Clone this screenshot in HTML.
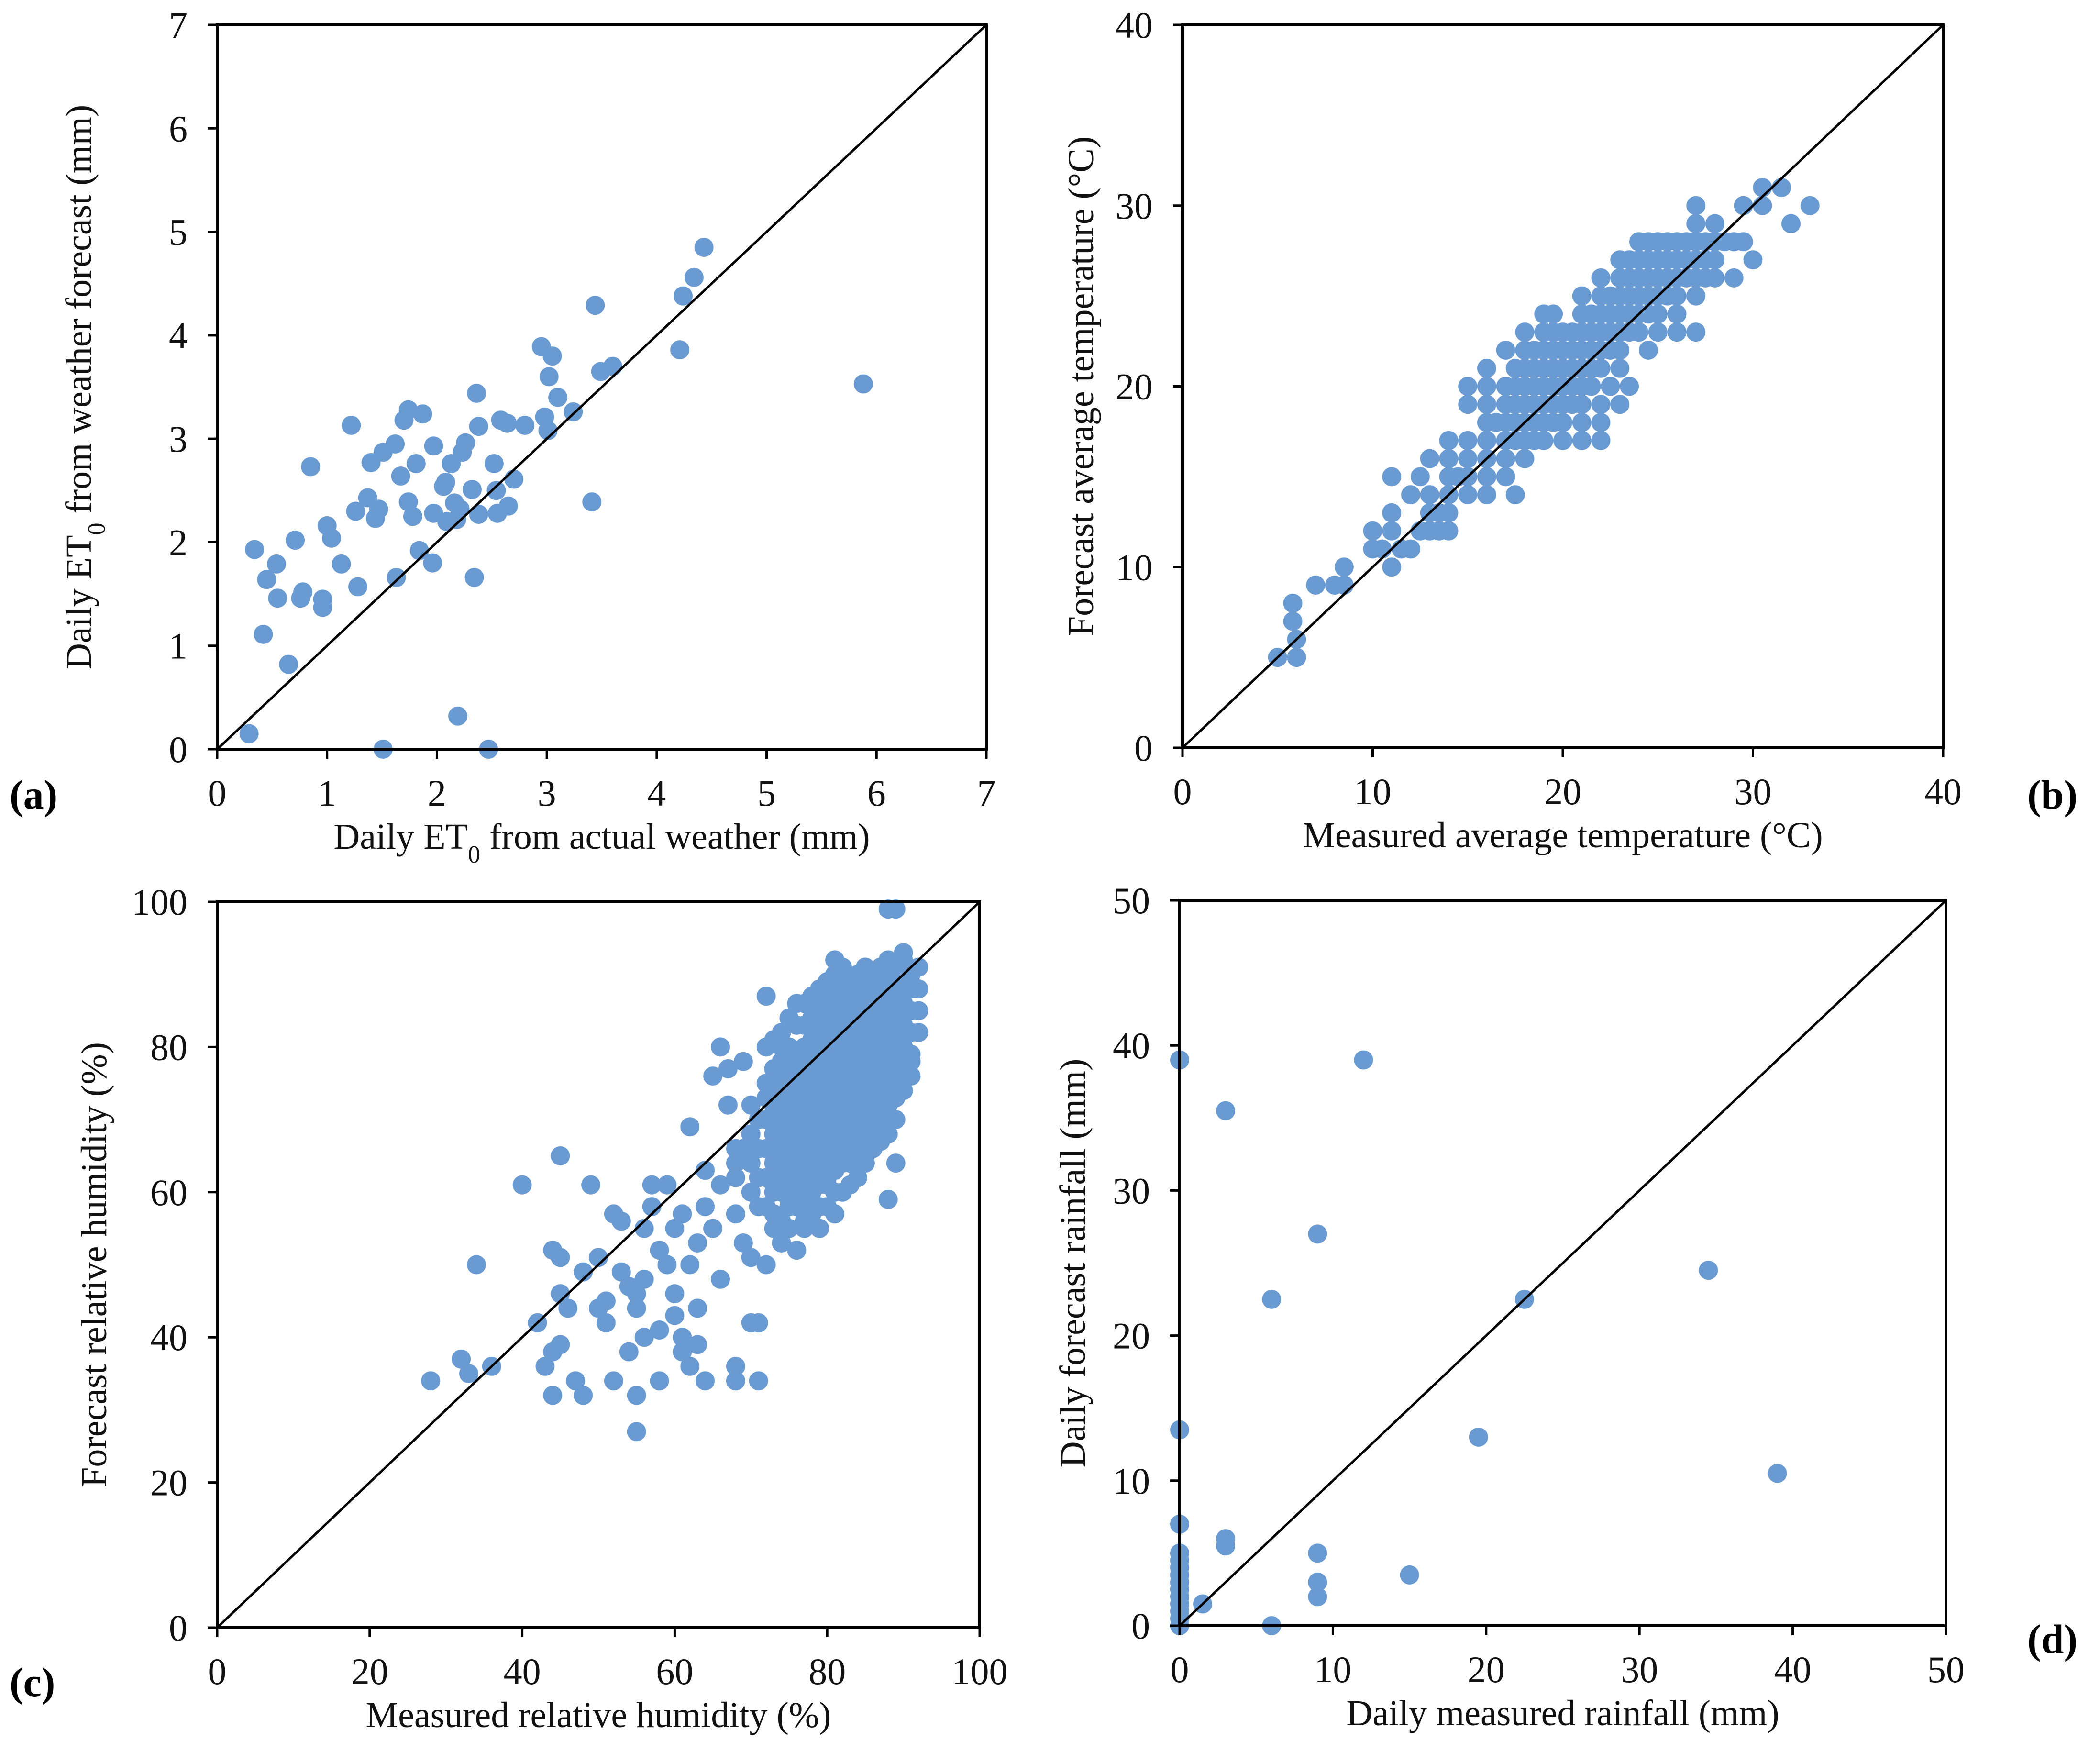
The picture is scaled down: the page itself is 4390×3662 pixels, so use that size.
<!DOCTYPE html>
<html><head><meta charset="utf-8">
<style>
html,body{margin:0;padding:0;background:#fff;}
svg{display:block;font-family:"Liberation Serif",serif;}
</style></head>
<body>
<svg id="fig" width="4390" height="3662" viewBox="0 0 4390 3662" xmlns="http://www.w3.org/2000/svg">
<rect width="4390" height="3662" fill="#fff"/>
</svg>
<script>
// Panel (a): ET0
const aX=[0.34,0.45,0.54,0.55,0.42,0.65,0.29,0.71,0.76,0.78,0.85,0.96,0.96,1.0,1.04,1.13,1.22,1.26,1.28,1.37,1.40,1.44,1.47,1.51,1.62,1.51,1.63,1.67,1.70,1.74,1.74,1.78,1.81,1.84,1.87,1.96,1.97,1.97,2.06,2.08,2.09,2.13,2.16,2.19,2.23,2.26,2.32,2.34,2.36,2.38,2.38,2.47,2.52,2.54,2.55,2.58,2.64,2.65,2.70,2.80,2.95,2.98,3.01,3.02,3.05,3.10,3.24,3.41,3.44,3.49,3.60,4.21,4.24,4.34,4.43,5.88,2.21,2.18];
const aY=[1.93,1.64,1.79,1.46,1.11,0.82,0.15,2.02,1.46,1.52,2.73,1.45,1.37,2.16,2.04,1.79,3.13,2.30,1.57,2.43,2.77,2.23,2.32,2.87,2.95,0,1.66,2.64,3.18,3.28,2.39,2.25,2.76,1.92,3.24,1.80,2.93,2.28,2.54,2.58,2.20,2.76,2.38,0.32,2.87,2.96,2.51,1.66,3.44,3.12,2.27,0,2.76,2.50,2.28,3.18,3.15,2.35,2.61,3.13,3.89,3.21,3.08,3.60,3.80,3.40,3.26,2.39,4.29,3.65,3.70,3.86,4.38,4.56,4.85,3.53,2.32,2.22];
const aTicks=[0,1,2,3,4,5,6,7];

// Panel (b): temperature, forecast levels and measured values at each level
const bLevels=[5,6,7,8,9,10,11,12,13,14,15,16,17,18,19,20,21,22,23,24,25,26,27,28,29,30,31];
const bMeasured=[
[5,6],[6],[5.8],[5.8],[7,8,8.5],[8.5,11],[10,10.5,11.5,12],[10,11,12.5,13,13.5,14],[11,13,13.5,14],[12,13,14,15,16,17.5],
[11,12.5,14,14.5,15,16,17],[13,14,15,16,17,18],[14,15,16,17,17.5,18,18.5,19,20,21,22],[16,16.5,17,17.5,18,18.5,19,19.5,20,21,22],
[15,16,17,17.5,18,18.5,19,19.5,20,20.5,21,22,23],[15,16,17,17.5,18,18.5,19,19.5,20,20.5,21,21.5,22.5,23.5],
[16,17.5,18,18.5,19,19.5,20,20.5,21,21.5,22,23],[17,18,18.5,19,19.5,20,20.5,21,21.5,22,22.5,23,24.5],
[18,19,19.5,20,20.5,21,21.5,22,22.5,23,23.5,24,25,26,27],[19,19.5,21,21.5,22,22.5,23,23.5,24,24.5,25,26],
[21,22,22.5,23,23.5,24,24.5,25,25.5,26,27],[22,23,23.5,24,24.5,25,25.5,26,26.5,27,27.5,28,29],
[23,23.5,24,24.5,25,25.5,26,26.5,27,27.5,28,30],[24,24.5,25,25.5,26,26.5,27,27.5,28,28.5,29,29.5],
[27,28,32],[27,29.5,30.5,33],[30.5,31.5]];
const bTicks=[0,10,20,30,40];

// Panel (c): humidity
const cPoints=[[28,34],[32,37],[33,35],[34,50],[36,36],[40,61],[42,42],[43,36],[44,52],[44,38],[45,51],[45,65],[44,32],[45,39],[46,44],[45,46],[47,34],[48,49],[48,32],[49,61],[50,51],[50,44],[51,45],[51,42],[52,57],[52,34],[53,56],[53,49],[54,47],[54,38],[55,27],[55,32],[55,44],[55,46],[56,40],[56,55],[56,48],[57,58],[57,61],[58,52],[58,34],[58,41],[59,61],[59,50],[60,43],[60,46],[60,55],[61,38],[61,40],[61,57],[62,69],[62,50],[62,36],[63,53],[63,44],[63,39],[64,34],[64,58],[64,63],[65,76],[65,55],[66,80],[66,48],[66,61],[67,77],[67,72],[68,36],[68,34],[68,57],[68,64],[69,78],[69,53],[70,51],[70,42],[71,34],[71,42],[71,62],[72,87],[72,75],[72,50],[73,60],[73,55],[74,53],[74,80],[75,67],[75,59],[76,52],[76,86],[76,72],[77,55],[78,77],[78,64],[79,55],[80,61],[80,68],[81,92],[81,84],[82,70],[83,64],[84,75],[85,65],[86,71],[87,90],[88,59],[88,99],[89,99],[89,64],[90,93],[91,78],[92,88],
[68,62],[68,66],[70,60],[70,64],[70,68],[70,72],[69,66],[71,58],[71,66],[71,70],
[72,58],[72,62],[72,66],[72,70],[72,73],[72,80],
[73,57],[73,61],[73,64],[73,68],[73,71],[73,74],[73,77],[73,81],
[74,56],[74,60],[74,63],[74,66],[74,69],[74,72],[74,75],[74,78],[74,82],
[75,55],[75,58],[75,62],[75,65],[75,68],[75,71],[75,74],[75,77],[75,80],[75,84],
[76,58],[76,61],[76,64],[76,67],[76,70],[76,73],[76,76],[76,79],[76,83],
[77,56],[77,59],[77,62],[77,65],[77,68],[77,71],[77,74],[77,77],[77,80],[77,83],[77,86],
[78,57],[78,60],[78,63],[78,66],[78,69],[78,72],[78,75],[78,78],[78,81],[78,84],[78,87],
[79,58],[79,61],[79,64],[79,67],[79,70],[79,73],[79,76],[79,79],[79,82],[79,85],[79,88],
[80,58],[80,62],[80,65],[80,71],[80,74],[80,77],[80,80],[80,83],[80,86],[80,89],
[81,57],[81,60],[81,63],[81,66],[81,69],[81,72],[81,75],[81,78],[81,81],[81,87],[81,90],
[82,60],[82,64],[82,67],[82,73],[82,76],[82,79],[82,82],[82,85],[82,88],[82,91],
[83,61],[83,65],[83,68],[83,71],[83,74],[83,77],[83,80],[83,83],[83,86],[83,89],
[84,62],[84,66],[84,69],[84,72],[84,78],[84,81],[84,84],[84,87],[84,90],
[85,64],[85,67],[85,70],[85,73],[85,76],[85,79],[85,82],[85,85],[85,88],[85,91],
[86,66],[86,69],[86,75],[86,78],[86,81],[86,84],[86,87],[86,90],
[87,67],[87,70],[87,73],[87,76],[87,79],[87,82],[87,85],[87,88],[87,91],
[88,68],[88,72],[88,75],[88,78],[88,81],[88,84],[88,87],[88,90],[88,92],
[89,70],[89,73],[89,76],[89,79],[89,82],[89,85],[89,88],[89,91],
[90,74],[90,77],[90,80],[90,83],[90,86],[90,89],[90,92],
[91,76],[91,79],[91,82],[91,85],[91,88],[91,90],[92,82],[92,85],[92,91]];
const cTicks=[0,20,40,60,80,100];

// Panel (d): rainfall
const dX=[0,3,12,9,6,22.5,34.5,19.5,39,0,0,3,3,9,15,9,9,1.5,6,0,0,0,0,0,0,0,0,0,0,0];
const dY=[39,35.5,39,27,22.5,22.5,24.5,13,10.5,13.5,7,6,5.5,5,3.5,3,2,1.5,0,5,4.5,4,3.5,3,2.5,2,1.5,1,0.5,0];
const dTicks=[0,10,20,30,40,50];

const NS='http://www.w3.org/2000/svg';
const svg=document.getElementById('fig');
const DOT='#6a9ad2';
function mk(tag,attrs,parent){const e=document.createElementNS(NS,tag);for(const k in attrs)e.setAttribute(k,attrs[k]);(parent||svg).appendChild(e);return e;}

function panel(id,box,max,ticks,pts,xTitle,yTitle,yTitleX,label,labelPos){
  const g=mk('g',{});
  
  
  const sx=v=>box.L+(v/max)*(box.R-box.L);
  const sy=v=>box.B-(v/max)*(box.B-box.T);
  const dg=mk('g',{},g);
  
  
  pts.forEach(p=>{
    const c=mk('circle',{cx:sx(p[0]),cy:sy(p[1]),r:20,fill:DOT},dg);
    
    
  });
  const ln=mk('line',{x1:sx(0),y1:sy(0),x2:sx(max),y2:sy(max),stroke:'#000','stroke-width':5},g);
  
  
  const fr=mk('rect',{x:box.L,y:box.T,width:box.R-box.L,height:box.B-box.T,fill:'none',stroke:'#000','stroke-width':6},g);
  
  
  ticks.forEach(t=>{
    mk('line',{x1:sx(t),y1:box.B,x2:sx(t),y2:box.B+20,stroke:'#000','stroke-width':5},g);
    mk('line',{x1:box.L-20,y1:sy(t),x2:box.L,y2:sy(t),stroke:'#000','stroke-width':5},g);
    const xt=mk('text',{x:sx(t),y:box.B+118,'font-size':78,'text-anchor':'middle',fill:'#111'},g);
    xt.textContent=t;
    
    
    const yt=mk('text',{x:box.L-62,y:sy(t)+27,'font-size':78,'text-anchor':'end',fill:'#111'},g);
    yt.textContent=t;
    
    
  });
  const xtt=mk('text',{x:(box.L+box.R)/2,y:box.B+208,'font-size':76,'text-anchor':'middle',fill:'#111'},g);
  xtt.innerHTML=xTitle;
  
  
  const cy=(box.T+box.B)/2;
  const ytt=mk('text',{x:yTitleX,y:cy,'font-size':76,'text-anchor':'middle',fill:'#111',transform:'rotate(-90 '+yTitleX+' '+cy+')'},g);
  ytt.innerHTML=yTitle;
  
  
  const lb=mk('text',{x:labelPos[0],y:labelPos[1],'font-size':86,'font-weight':'bold',fill:'#000'},g);
  lb.textContent=label;
  
  
}

const aPts=aX.map((x,i)=>[x,aY[i]]);
const bPts=[];bLevels.forEach((lv,i)=>bMeasured[i].forEach(x=>bPts.push([x,lv])));
const dPts=dX.map((x,i)=>[x,dY[i]]);

panel('a',{L:454,R:2062,T:52,B:1566},7,aTicks,aPts,
 'Daily ET<tspan baseline-shift="sub" font-size="52">0</tspan> from actual weather (mm)',
 'Daily ET<tspan baseline-shift="sub" font-size="52">0</tspan> from weather forecast (mm)',190,'(a)',[20,1690]);
panel('b',{L:2472,R:4062,T:52,B:1563},40,bTicks,bPts,
 'Measured average temperature (°C)','Forecast average temperature (°C)',2285,'(b)',[4238,1690]);
panel('c',{L:454,R:2048,T:1885,B:3402},100,cTicks,cPoints,
 'Measured relative humidity (%)','Forecast relative humidity (%)',222,'(c)',[20,3545]);
panel('d',{L:2466,R:4068,T:1882,B:3398},50,dTicks,dPts,
 'Daily measured rainfall (mm)','Daily forecast rainfall (mm)',2268,'(d)',[4238,3455]);
</script>
</body></html>
